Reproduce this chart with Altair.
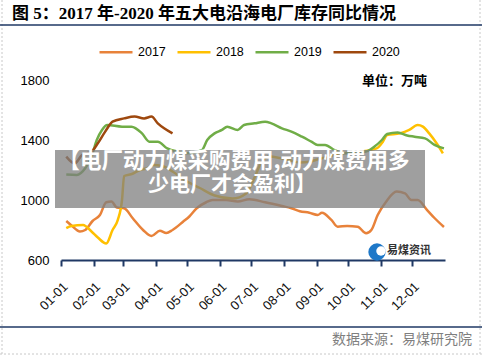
import altair as alt
import pandas as pd

series_names = ["2017", "2018", "2019", "2020"]
series_colors = ["#E8823A", "#FFC000", "#70AD47", "#9E480E"]

dates_2017 = ["01-06", "01-11", "01-19", "01-24", "01-31", "02-07", "02-13", "02-18", "02-23", "03-02",
              "03-10", "03-20", "03-28", "04-05", "04-11", "04-17", "04-27", "05-03", "05-10", "05-19",
              "05-25", "06-07", "06-18", "06-29", "07-14", "07-30", "08-08", "08-16", "08-25", "09-02",
              "09-06", "09-15", "09-21", "09-30", "10-10", "10-18", "10-23", "10-29", "11-06", "11-16",
              "11-24", "11-30", "12-06", "12-15", "12-22", "12-31"]
values_2017 = [860, 830, 790, 800, 860, 900, 985, 990, 950, 945,
               880, 800, 760, 795, 780, 800, 855, 890, 945, 985,
               1000, 1000, 990, 1005, 985, 960, 945, 925, 915, 900,
               915, 867, 822, 827, 822, 778, 800, 900, 989, 1056,
               1044, 1000, 1000, 933, 880, 820]

dates_2018 = ["01-06", "01-11", "01-22", "01-30", "02-05", "02-13", "02-19", "02-24", "02-28", "03-02",
              "03-10", "03-17", "03-23", "03-29", "04-08", "04-17", "04-28", "05-13", "05-27", "06-13",
              "06-26", "07-04", "07-11", "07-18", "07-28", "08-06", "08-16", "08-25", "09-04", "09-13",
              "09-23", "10-12", "10-28", "11-03", "11-07", "11-19", "11-28", "12-06", "12-11", "12-17",
              "12-24", "12-30"]
values_2018 = [813, 827, 833, 790, 750, 710, 800, 867, 1000, 1160,
               1175, 1200, 1210, 1233, 1225, 1190, 1135, 1080, 1030, 1010,
               1044, 1150, 1260, 1290, 1280, 1265, 1250, 1255, 1275, 1290,
               1311, 1322, 1344, 1389, 1433, 1444, 1467, 1500, 1489, 1444,
               1378, 1311]

dates_2019 = ["01-06", "01-16", "01-24", "01-30", "02-04", "02-09", "02-14", "02-28", "03-09", "03-19",
              "03-26", "04-03", "04-12", "04-22", "05-01", "05-15", "05-20", "05-27", "06-03", "06-08",
              "06-18", "06-24", "07-04", "07-14", "07-20", "07-30", "08-08", "08-18", "08-27", "09-02",
              "09-09", "09-18", "09-28", "10-07", "10-17", "10-26", "11-02", "11-07", "11-17", "11-26",
              "12-03", "12-13", "12-22", "12-31"]
values_2019 = [1170, 1167, 1211, 1289, 1400, 1467, 1500, 1489, 1489, 1444,
               1389, 1389, 1344, 1322, 1311, 1333, 1400, 1444, 1467, 1489,
               1467, 1500, 1511, 1522, 1511, 1478, 1456, 1422, 1389, 1367,
               1367, 1333, 1311, 1322, 1322, 1356, 1400, 1440, 1450, 1430,
               1422, 1411, 1367, 1344]

dates_2020 = ["01-06", "01-14", "01-21", "01-30", "02-05", "02-12", "02-19", "03-02", "03-12", "03-21",
              "03-28", "04-03", "04-09", "04-17"]
values_2020 = [1289, 1244, 1300, 1322, 1378, 1456, 1522, 1544, 1556, 1544,
               1556, 1511, 1478, 1444]

y_ticks = [600, 1000, 1400, 1800]

title_text = "图 5：2017 年-2020 年五大电沿海电厂库存同比情况"
unit_text = "单位：万吨"
banner_line1 = "【电厂动力煤采购费用,动力煤费用多"
banner_line2 = "少电厂才会盈利】"
source_text = "数据来源：易煤研究院"
logo_text = "易煤资讯"

rows = []
for name, ds, vs in [("2017", dates_2017, values_2017), ("2018", dates_2018, values_2018),
                     ("2019", dates_2019, values_2019), ("2020", dates_2020, values_2020)]:
    for d, v in zip(ds, vs):
        rows.append({"date": pd.Timestamp("2001-" + d), "series": name, "value": v})
df = pd.DataFrame(rows)

NAVY = "#1F3864"
one = pd.DataFrame({"k": [0]})

x_enc = alt.X(
    "date:T",
    title=None,
    scale=alt.Scale(domain=[alt.DateTime(year=2001, month=1, date=1),
                            alt.DateTime(year=2002, month=1, date=1)]),
    axis=alt.Axis(values=[alt.DateTime(year=2001, month=m, date=1) for m in range(1, 13)],
                  format="%m-%d", labelAngle=-45, labelAlign="right", labelBaseline="top",
                  labelPadding=14, labelFontSize=13, labelFont="Liberation Sans", labelColor="#111",
                  domainColor=NAVY, domainWidth=2, tickColor=NAVY, tickWidth=2, tickSize=6,
                  grid=False, labelOverlap=False),
)
y_enc = alt.Y(
    "value:Q",
    title=None,
    scale=alt.Scale(domain=[600, 1800], nice=False, zero=False),
    axis=alt.Axis(values=y_ticks, format="d", domain=False, ticks=False, grid=False, labelPadding=12,
                  labelFontSize=13, labelFont="Liberation Sans", labelColor="#000"),
)

lines = alt.Chart(df).mark_line(strokeWidth=2.5, interpolate="monotone").encode(
    x=x_enc,
    y=y_enc,
    color=alt.Color("series:N",
                    scale=alt.Scale(domain=series_names, range=series_colors),
                    legend=alt.Legend(orient="none", legendX=37, legendY=-46, direction="horizontal",
                                      title=None, symbolType="stroke", symbolSize=1089,
                                      symbolStrokeWidth=2.5, labelFontSize=12.5,
                                      labelFont="Liberation Sans", labelColor="#000",
                                      columnPadding=6, labelOffset=4)),
)

def text_layer(txt, x, y, size, weight="normal", align="left", color="#000",
               font="Noto Sans CJK SC", baseline="middle"):
    return alt.Chart(pd.DataFrame({"t": [txt]})).mark_text(
        align=align, baseline=baseline, fontSize=size, fontWeight=weight, color=color, font=font
    ).encode(x=alt.value(x), y=alt.value(y), text="t:N")

def hrule(x1, x2, y, color, width, dash=None):
    kw = {"color": color, "strokeWidth": width}
    if dash:
        kw["strokeDash"] = dash
    return alt.Chart(one).mark_rule(**kw).encode(x=alt.value(x1), x2=alt.value(x2), y=alt.value(y))

def vrule(x, y1, y2, color, width, dash=None):
    kw = {"color": color, "strokeWidth": width}
    if dash:
        kw["strokeDash"] = dash
    return alt.Chart(one).mark_rule(**kw).encode(x=alt.value(x), y=alt.value(y1), y2=alt.value(y2))

title = text_layer(title_text, -49, -66, 17, weight="bold", font="Liberation Serif, Noto Sans CJK SC")
title_line = hrule(-61, 421, -55, NAVY, 1.5)
bottom_line = hrule(-61, 421, 247, NAVY, 1.5)
left_border = vrule(-59, -80, 274, "#c8c8c8", 1, [2, 2])
right_border = vrule(419, -80, 274, "#c8c8c8", 1, [2, 2])
bottom_border = hrule(-61, 421, 274, "#c8c8c8", 1, [2, 2])
unit = text_layer(unit_text, 366, 1, 13, weight="bold", align="right")
source = text_layer(source_text, 411, 260, 14, align="right", color="#7f7f7f")

banner = alt.Chart(one).mark_rect(color="#7f7f7f", opacity=0.75).encode(
    x=alt.value(-6), x2=alt.value(364), y=alt.value(70), y2=alt.value(128))
banner_t1 = text_layer(banner_line1, 173, 82, 21.5, weight="bold", align="center", color="#ffffff")
banner_t2 = text_layer(banner_line2, 171, 105, 21, weight="bold", align="center", color="#ffffff")

logo_outer = alt.Chart(one).mark_point(filled=True, shape="circle", size=300, color="#1E78C8", opacity=1).encode(
    x=alt.value(316), y=alt.value(172))
logo_inner = alt.Chart(one).mark_point(filled=True, shape="circle", size=90, color="#ffffff", opacity=1).encode(
    x=alt.value(320), y=alt.value(171))
logo_t = text_layer(logo_text, 326, 171, 11, weight="bold", color="#333333")

chart = alt.layer(
    left_border, right_border, bottom_border,
    lines, banner, banner_t1, banner_t2,
    title, title_line, bottom_line, unit, source,
    logo_outer, logo_inner, logo_t,
).properties(
    width=384, height=180,
    padding={"left": 61, "top": 80, "right": 37, "bottom": 96},
    autosize="none",
    background="#ffffff",
).configure_view(stroke=None)

chart.save("out.html", embed_options={"renderer": "svg", "actions": False})
